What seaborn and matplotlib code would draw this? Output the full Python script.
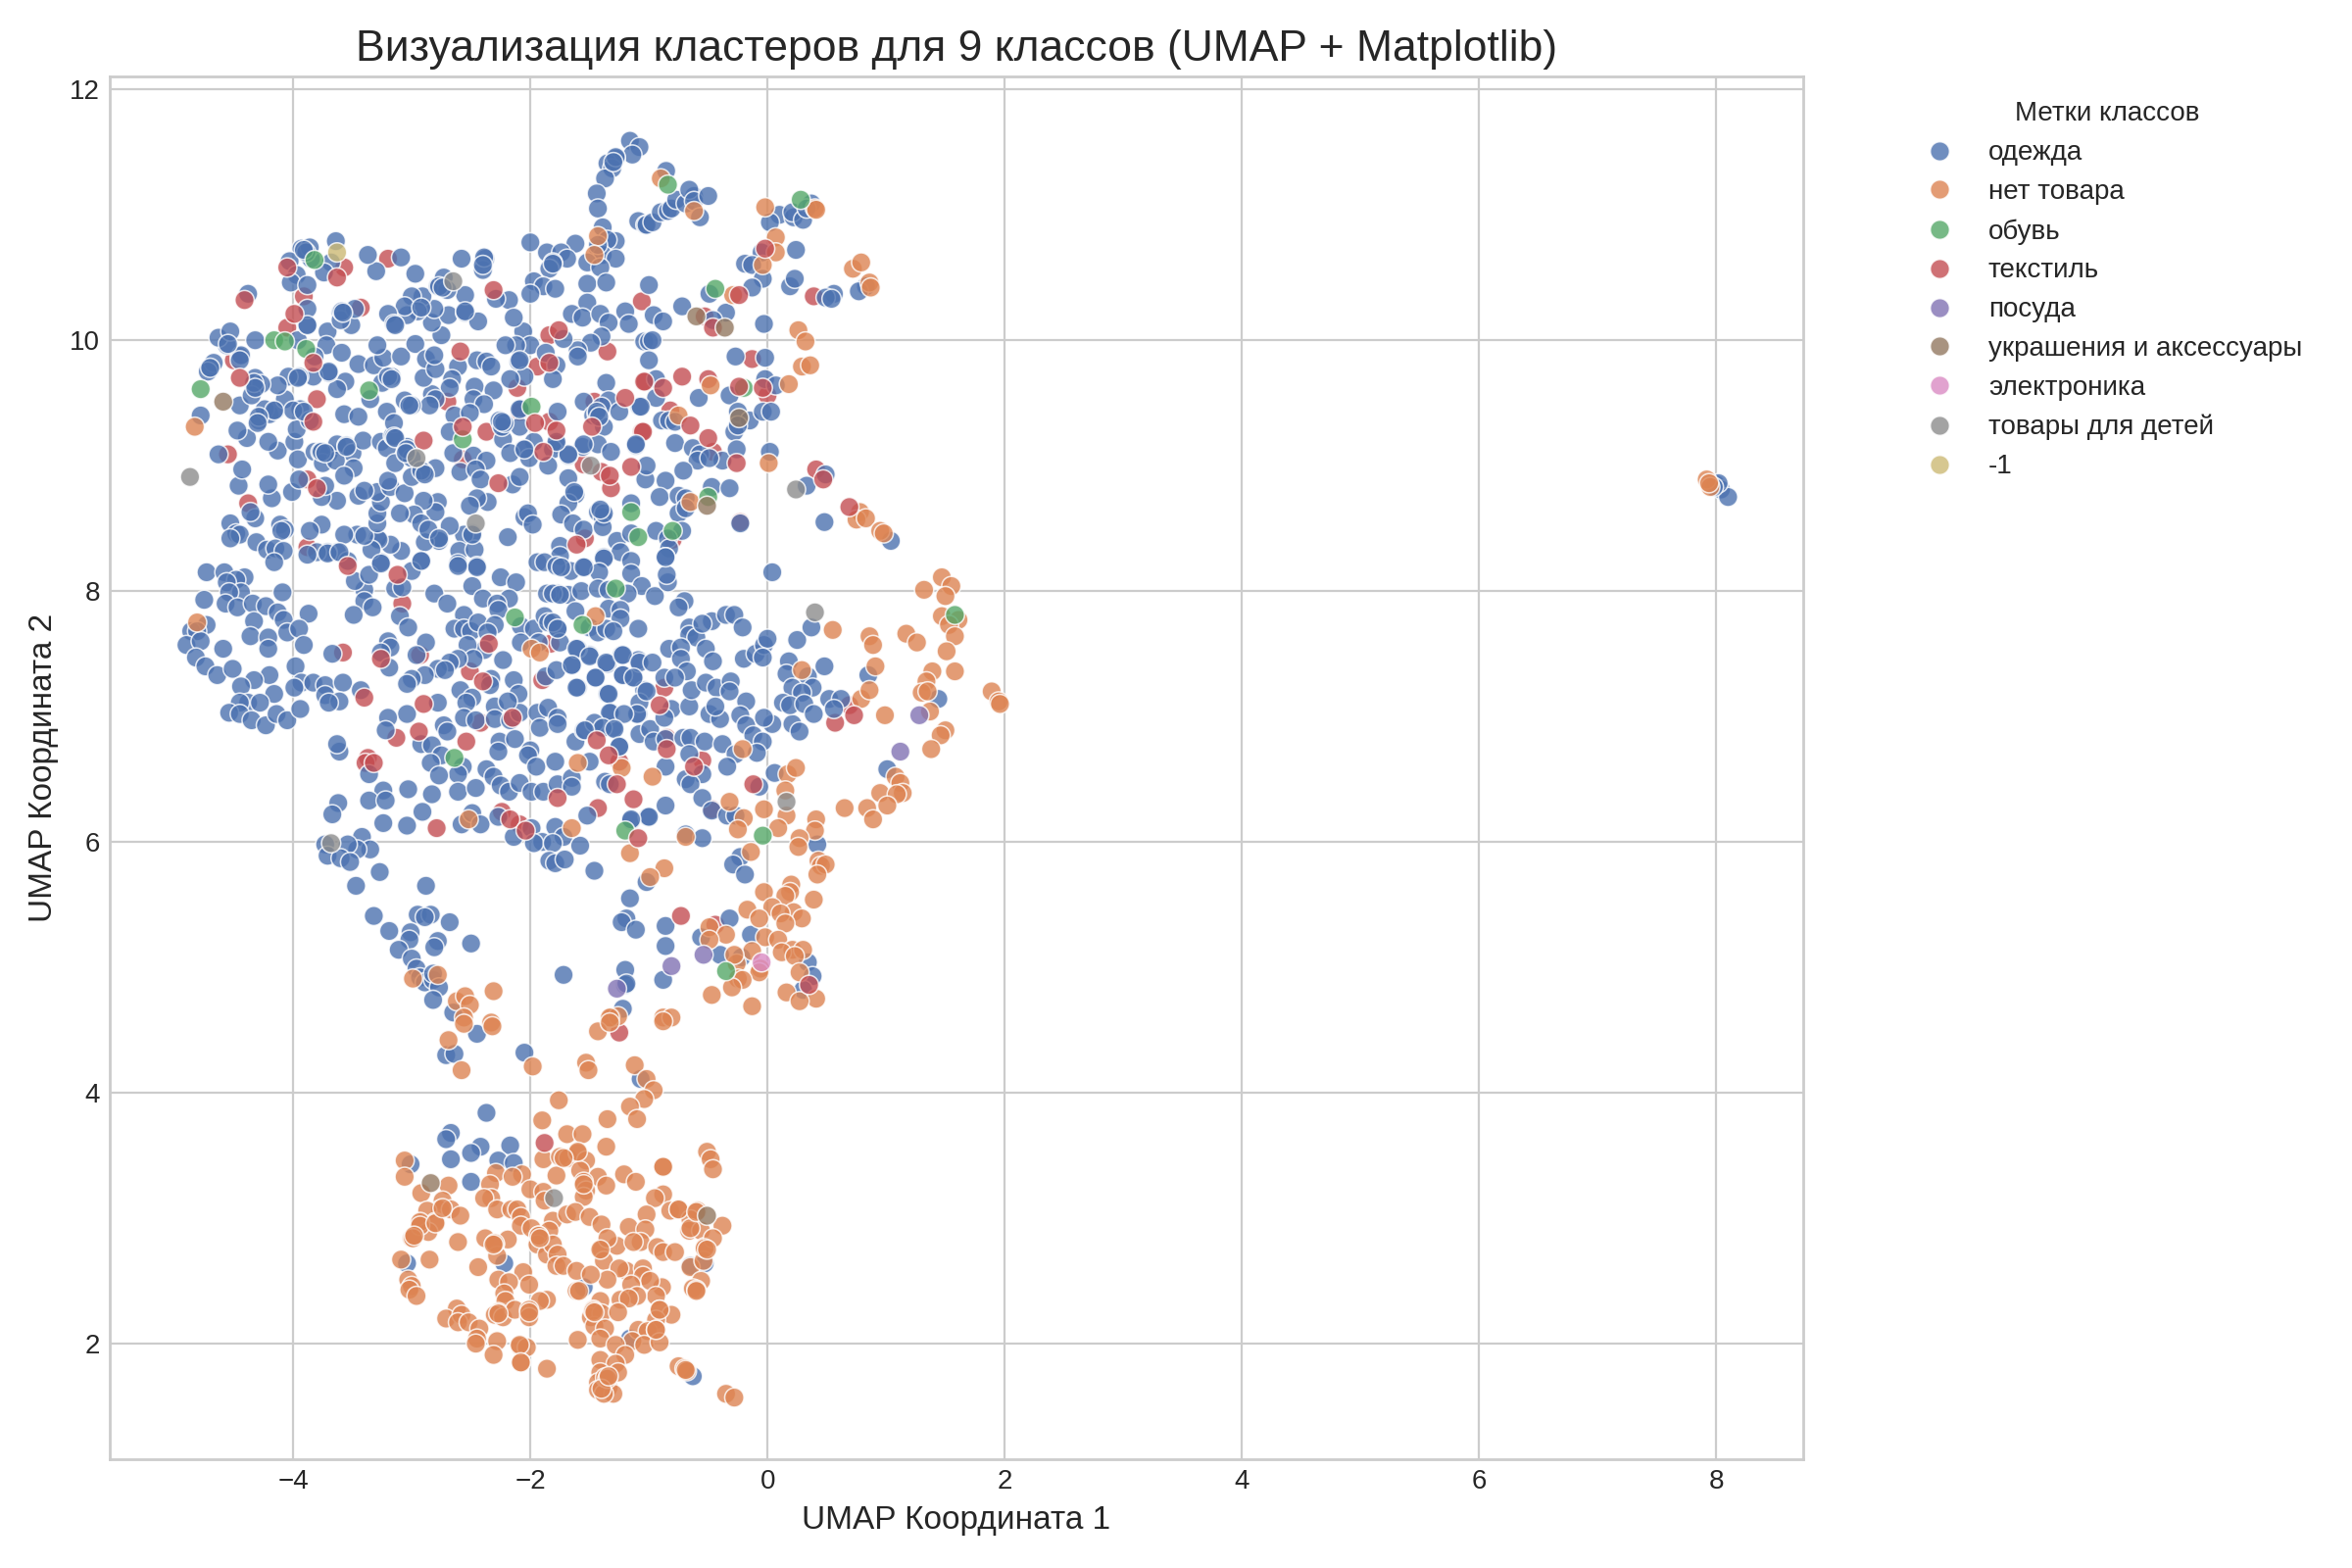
import matplotlib
matplotlib.use('Agg')
import matplotlib.pyplot as plt
import pandas as pd
import seaborn as sns

class_names = ['одежда', 'нет товара', 'обувь', 'текстиль', 'посуда',
               'украшения и аксессуары', 'электроника', 'товары для детей', '-1']

# values
odezhda = [
    (-1.16,11.59),(-1.08,11.54),(-1.14,11.48),(-1.28,11.45),(-1.35,11.41),(-1.31,11.37),(-1.37,11.29),(-1.44,11.17),(-1.43,11.05),(-1.39,10.90),
    (-1.28,10.79),(-1.35,10.80),(-1.09,10.95),(-1.03,10.92),(-2.0,10.78),(-1.86,10.70),(-1.62,10.77),(-1.74,10.70),(-1.69,10.65),(-1.81,10.62),
    (-1.84,10.57),(-1.43,10.73),(-1.39,10.68),(-1.28,10.65),(-1.52,10.62),(-1.41,10.58),(-1.52,10.45),(-1.36,10.46),(-1.97,10.47),(-1.89,10.43),
    (-1.79,10.41),(-2.0,10.37),(-1.52,10.30),(-1.65,10.21),(-1.56,10.18),(-1.41,10.21),(-1.34,10.14),(-1.20,10.23),(-1.17,10.13),(-1.40,10.03),
    (-1.49,9.98),(-1.60,9.92),(-1.60,9.87),(-1.36,9.66),(-1.04,9.99),(-2.06,10.07),(-2.0,9.96),(-2.12,9.96),(-2.21,9.96),(-1.87,9.90),
    (-1.72,10.01),(-2.10,9.83),(-1.78,9.80),(-2.05,9.71),(-2.17,9.69),(-1.81,9.69),(-2.18,10.32),(-2.14,10.18),(-2.29,10.33),(-2.08,9.45),
    (-1.77,9.43),(-1.55,9.51),(-1.34,9.52),(-1.40,9.47),(-1.47,9.40),(-1.44,9.41),(-1.25,9.43),(-1.08,9.47),(-1.38,9.31),(-1.11,9.16),
    (-2.24,9.32),(-2.09,9.31),(-2.26,9.36),(-2.23,9.21),(-1.97,9.19),(-2.06,9.13),(-2.17,9.10),(-2.01,9.06),(-1.78,9.17),(-1.81,9.13),
    (-1.56,9.15),(-1.68,9.08),(-1.43,9.17),(-1.32,9.11),(-1.85,9.0),(-1.68,8.90),(-1.63,8.78),(-1.62,8.77),(-1.68,8.70),(-1.74,8.61),
    (-1.43,8.63),(-1.39,8.59),(-1.15,8.70),(-1.64,8.54),(-1.55,8.49),(-1.39,8.51),(-1.75,8.36),(-1.27,8.40),(-1.15,8.46),(-1.38,8.27),
    (-1.24,8.31),(-1.15,8.24),(-2.19,8.43),(-2.45,9.84),(-2.37,9.83),(-2.33,9.79),(-2.61,9.79),(-2.66,9.69),(-2.68,9.62),(-2.47,9.63),
    (-2.31,9.60),(-2.83,9.57),(-2.80,9.53),(-2.85,9.48),(-2.48,9.53),(-2.39,9.49),(-3.06,9.52),(-3.0,9.48),(-2.64,9.40),(-2.51,9.42),
    (-2.68,9.27),(-2.65,9.10),(-2.48,9.08),(-2.37,9.04),(-2.59,8.95),(-2.46,8.97),(-2.42,8.89),(-2.15,8.85),(-2.09,8.91),(-2.36,8.71),
    (-2.45,8.74),(-2.51,8.68),(-2.05,8.59),(-2.02,8.62),(-1.98,8.53),(-2.49,8.46),(-2.56,8.45),(-2.68,8.52),(-2.78,8.41),(-2.77,8.40),
    (-2.60,8.32),(-2.47,8.33),(-2.89,8.39),(-2.61,8.22),(-2.45,8.20),(-2.92,8.24),(-3.09,8.32),(-3.18,8.37),(-3.29,8.42),(-3.28,8.41),
    (-3.26,8.23),(-3.34,8.33),(-3.46,8.45),(-3.57,8.45),(-3.40,8.44),(-3.29,8.54),(-3.76,8.53),(-3.86,8.48),(-3.63,8.31),(-3.71,8.31),
    (-3.80,8.31),(-3.88,8.29),(-3.54,8.24),(-2.78,8.71),(-2.80,8.63),(-2.90,8.72),(-2.98,8.61),(-2.92,8.54),(-2.86,8.49),(-3.10,8.62),
    (-3.29,8.62),(-3.26,8.71),(-3.29,8.79),(-3.18,8.83),(-3.06,8.78),(-3.20,8.88),(-3.45,8.76),(-3.40,8.80),(-3.63,8.72),(-3.76,8.75),
    (-3.73,8.84),(-4.01,8.79),(-3.95,8.89),(-4.18,8.74),(-4.21,8.85),(-4.46,8.84),(-4.43,8.97),(-4.63,9.09),(-4.13,9.12),(-4.21,9.19),
    (-4.39,9.22),(-4.47,9.28),(-3.99,9.19),(-3.96,9.05),(-3.97,9.29),(-3.82,9.11),(-3.77,9.11),(-3.70,9.10),(-3.63,9.17),(-3.55,9.16),
    (-3.50,9.10),(-3.75,9.02),(-3.64,9.04),(-3.49,8.98),(-3.57,8.92),(-3.41,9.2),(-3.26,9.19),(-3.21,9.14),(-3.16,9.24),(-3.14,9.02),
    (-3.04,9.15),(-3.04,9.10),(-3.0,9.06),(-2.80,8.98),(-2.90,8.95),(-3.0,8.91),(-4.78,9.40),(-4.45,9.48),(-4.29,9.36),(-4.20,9.41),
    (-4.24,9.45),(-4.15,9.44),(-4.07,9.53),(-3.94,9.45),(-4.0,9.44),(-3.86,9.36),(-3.57,9.41),(-3.45,9.39),(-3.21,9.43),(-3.15,9.34),
    (-3.35,9.53),(-3.25,9.66),(-3.17,9.71),(-2.90,9.70),(-3.56,9.67),(-3.63,9.61),(-3.70,9.74),(-3.83,9.71),(-3.95,9.71),(-4.04,9.71),
    (-4.13,9.64),(-4.32,9.70),(-4.33,9.61),(-4.27,9.65),(-4.35,9.56),(-4.45,9.87),(-4.56,9.96),(-4.63,10.02),(-4.53,10.07),(-4.32,10.0),
    (-4.70,9.77),(-4.67,9.82),(-3.96,10.0),(-3.88,10.12),(-3.71,10.07),(-3.72,9.96),(-3.82,9.87),(-3.59,9.90),(-3.45,9.81),(-3.32,9.80),
    (-3.24,9.86),(-3.29,9.96),(-3.09,9.87),(-2.97,9.97),(-2.88,9.85),(-2.80,9.77),(-2.81,9.88),(-2.75,10.04),(-2.83,10.14),(-2.69,10.20),
    (-2.55,10.22),(-2.44,10.15),(-2.55,10.36),(-2.81,10.25),(-2.91,10.35),(-3.0,10.35),(-2.95,10.23),(-3.04,10.20),(-3.06,10.27),(-3.20,10.21),
    (-3.15,10.13),(-2.78,10.43),(-2.73,10.50),(-2.70,10.40),(-2.58,10.65),(-2.38,10.65),(-2.40,10.56),(-2.97,10.53),(-3.30,10.55),(-3.37,10.68),
    (-3.09,10.66),(-3.64,10.79),(-3.68,10.62),(-3.74,10.54),(-3.85,10.65),(-3.93,10.73),(-3.86,10.74),(-3.89,10.70),(-4.03,10.63),(-3.97,10.52),
    (-4.02,10.46),(-3.88,10.44),(-3.88,10.25),(-4.38,10.37),(-3.60,10.22),(-3.51,10.12),(-3.60,10.16),(-3.48,10.25),(-3.59,10.23),(-3.88,10.12),
    (-1.0,10.44),(-0.96,10.20),(-0.88,10.15),(-0.72,10.27),(-1.0,9.99),(-0.97,10.0),(-1.0,9.84),(-0.855,11.35),(-1.02,10.92),(-0.97,10.94),
    (-0.90,11.02),(-0.84,11.03),(-0.81,11.05),(-0.77,11.12),(-0.69,11.09),(-0.62,11.15),(-0.66,11.20),(-0.62,11.11),(-0.50,11.15),(-0.57,10.98),
    (0.10,11.0),(0.02,10.94),(0.22,10.98),(0.21,11.02),(0.30,10.96),(0.37,11.09),(0.33,11.05),(-0.05,10.70),(0.24,10.72),(-0.19,10.61),
    (-0.13,10.60),(-0.04,10.49),(-0.13,10.42),(0.83,10.43),(0.77,10.39),(0.19,10.43),(0.23,10.49),(0.56,10.37),(0.49,10.34),(0.54,10.33),
    (-0.49,10.37),(-0.35,10.22),(-0.46,10.16),(-0.03,10.13),(-0.27,9.87),(-0.02,9.86),(-0.02,9.69),(0.07,9.64),(-0.32,9.56),(-0.58,9.54),
    (-0.94,9.69),(-0.94,9.54),(-1.07,9.47),(-0.89,9.36),(-0.83,9.36),(-0.78,9.35),(-0.25,9.43),(-0.15,9.36),(-0.04,9.43),(0.03,9.43),
    (-0.28,9.27),(-0.25,9.32),(-1.11,9.17),(-0.78,9.18),(-0.63,9.14),(-0.57,9.09),(-0.59,9.04),(-0.38,9.04),(-0.26,9.13),(0.02,9.11),
    (-0.49,9.06),(-0.71,8.96),(-0.86,8.88),(-1.03,8.89),(-1.02,9.0),(-0.91,8.75),(-0.75,8.76),(-0.69,8.74),(-0.47,8.83),(-0.32,8.82),
    (-0.75,8.62),(-0.69,8.66),(-0.23,8.54),(0.33,8.84),(0.49,8.93),(0.48,8.55),(1.04,8.40),(-0.94,8.48),(-0.72,8.48),(-0.84,8.42),
    (-0.83,8.34),(-0.86,8.27),(0.04,8.15),
    (-4.73,8.15),(-4.58,8.15),(-4.41,8.11),(-4.48,8.09),(-4.56,8.07),(-4.44,7.99),(-4.54,7.99),(-4.75,7.93),(-4.57,7.90),(-4.47,7.87),
    (-4.34,7.90),(-4.23,7.88),(-4.09,7.99),(-4.13,7.83),(-4.08,7.77),(-3.87,7.82),(-4.33,7.76),(-4.36,7.64),(-4.21,7.63),(-4.21,7.54),
    (-4.05,7.67),(-3.95,7.70),(-3.91,7.57),(-4.73,7.73),(-4.86,7.68),(-4.81,7.68),(-4.90,7.57),(-4.78,7.60),(-4.82,7.47),(-4.59,7.54),
    (-4.74,7.40),(-4.64,7.33),(-4.51,7.38),(-4.20,7.33),(-4.33,7.29),(-4.44,7.24),(-3.98,7.40),(-3.93,7.27),(-3.99,7.23),(-3.83,7.27),
    (-3.73,7.25),(-3.73,7.17),(-3.58,7.27),(-3.43,7.21),(-3.61,7.12),(-3.70,7.11),(-4.16,7.18),(-4.38,7.11),(-4.45,7.11),(-4.28,7.11),
    (-4.54,7.03),(-4.45,7.02),(-4.35,6.97),(-4.23,6.93),(-4.14,7.02),(-4.05,6.97),(-3.94,7.06),(-3.67,7.50),(-3.20,7.60),(-3.18,7.55),
    (-3.26,7.51),(-3.19,7.39),(-2.88,7.59),(-2.96,7.49),(-3.40,8.01),(-3.48,8.08),(-3.36,8.13),(-3.26,8.22),(-3.14,8.02),(-3.08,8.03),
    (-3.40,7.92),(-3.33,7.87),(-3.49,7.81),(-3.10,7.80),(-3.03,7.71),(-3.0,8.16),(-2.92,8.24),(-2.81,7.98),(-2.70,7.90),(-2.49,8.04),
    (-2.45,8.19),(-2.25,8.11),(-2.12,8.07),(-2.40,7.94),(-2.18,7.94),(-2.28,7.90),(-2.27,7.85),(-2.56,7.81),(-2.64,7.70),(-2.56,7.70),
    (-2.50,7.68),(-2.44,7.75),(-2.30,7.73),(-2.36,7.67),(-2.08,7.72),(-1.97,7.70),(-1.88,7.80),(-1.85,7.75),(-1.77,7.70),(-2.39,7.53),
    (-2.53,7.57),(-2.48,7.46),(-2.61,7.46),(-2.68,7.43),(-2.78,7.38),(-2.72,7.37),(-2.89,7.33),(-3.0,7.30),(-3.04,7.26),(-2.33,7.30),
    (-2.23,7.45),(-2.08,7.59),(-1.93,7.59),(-1.75,7.59),(-2.14,7.29),(-2.10,7.18),(-2.59,7.21),(-2.49,7.15),(-2.54,7.11),(-2.78,7.11),
    (-3.04,7.02),(-3.20,6.99),(-3.22,6.89),(-2.92,6.78),(-2.83,6.77),(-2.56,6.99),(-2.46,6.97),(-2.30,7.08),(-2.30,6.98),(-2.17,6.97),
    (-2.09,7.03),(-2.73,6.93),(-2.70,6.88),(-2.26,6.80),(-2.13,6.82),(-2.27,6.72),(-1.94,7.03),(-1.85,7.07),(-1.77,6.99),(-1.92,6.91),
    (-1.77,6.94),(-2.0,6.73),(-2.02,6.69),(-1.95,6.60),(-1.79,6.64),(-1.62,6.80),(-1.55,6.89),(-1.38,6.91),(-1.30,6.91),(-1.32,7.03),
    (-1.35,7.18),(-1.60,7.23),(-1.45,7.31),(-1.50,7.49),(-1.60,7.54),(-1.65,7.41),(-1.35,7.42),(-1.23,7.49),(-1.13,7.31),(-1.22,7.33),
    (-1.09,7.45),(-1.09,7.02),(-1.04,7.21),(-1.87,7.32),(-1.78,7.37),(-2.75,6.69),(-2.84,6.63),(-2.57,6.60),(-2.61,6.54),(-2.77,6.53),
    (-2.61,6.40),(-2.46,6.43),(-2.37,6.58),(-2.31,6.52),(-2.25,6.45),(-2.18,6.40),(-2.09,6.47),(-1.99,6.40),(-1.89,6.40),(-1.77,6.46),
    (-1.65,6.51),(-1.65,6.44),(-1.52,6.21),(-1.37,6.48),(-1.33,6.46),(-1.15,6.17),(-1.25,6.76),(-1.50,6.64),(-1.01,6.20),(-3.36,6.54),
    (-3.61,6.72),(-3.63,6.78),(-3.24,6.41),(-3.36,6.33),(-3.22,6.33),(-3.03,6.42),(-2.83,6.38),(-3.62,6.31),(-3.67,6.22),(-3.24,6.15),
    (-3.04,6.13),(-2.91,6.24),(-2.58,6.14),(-2.49,6.23),(-2.42,6.14),(-2.27,6.20),(-2.14,6.04),(-1.99,6.11),(-1.90,6.0),(-1.97,5.99),
    (-1.79,6.12),(-1.72,6.04),(-1.81,5.99),(-1.58,5.97),(-1.84,5.85),(-1.79,5.83),(-1.71,5.86),(-1.46,5.77),(-3.42,6.04),(-3.35,5.94),
    (-3.46,5.94),(-3.54,5.98),(-3.73,5.98),(-3.71,5.89),(-3.60,5.87),(-3.52,5.84),(-3.27,5.76),(-3.47,5.65),(-2.88,5.65),(-3.32,5.41),
    (-3.19,5.29),(-2.95,5.42),(-2.84,5.42),(-2.89,5.40),(-2.68,5.36),(-3.01,5.28),(-3.02,5.22),(-3.11,5.14),(-2.78,5.21),(-2.81,5.16),
    (-2.50,5.19),(-3.0,5.07),(-2.96,4.99),(-2.93,4.92),(-2.89,4.88),(-2.82,4.90),(-2.82,4.95),(-2.77,4.84),(-2.82,4.74),(-2.65,4.64),
    (-1.72,4.94),(-1.16,5.55),(-1.19,5.39),(-1.23,5.36),(-1.11,5.30),(-1.20,4.98),(-1.20,4.86),(-1.19,4.87),(-1.22,4.67),
    (-1.66,8.16),(-1.75,8.28),(-1.54,8.19),(-1.38,8.26),(-1.42,8.15),(-1.15,8.14),(-1.06,8.04),(-0.95,7.96),(-0.84,8.07),(-0.85,8.13),
    (-0.86,8.27),(-1.77,7.98),(-1.68,7.97),(-1.57,8.0),(-1.43,8.02),(-1.34,8.01),(-1.18,7.98),(-1.62,7.84),(-1.34,7.86),(-1.24,7.85),
    (-1.24,7.78),(-1.09,7.70),(-1.50,7.71),(-1.43,7.67),(-1.36,7.70),(-1.30,7.68),(-1.81,7.75),(-1.77,7.70),(-1.61,7.54),(-1.50,7.48),
    (-1.65,7.41),(-1.36,7.43),(-1.22,7.49),(-1.08,7.43),(-0.97,7.43),(-1.22,7.33),(-1.13,7.31),(-1.45,7.31),(-1.61,7.23),(-1.34,7.18),
    (-1.08,7.11),(-1.02,7.20),(-1.33,7.03),(-1.10,7.02),(-1.21,7.02),(-1.46,6.95),(-1.39,6.91),(-1.29,6.90),(-1.54,6.89),(-1.25,6.76),
    (-1.08,6.86),(-0.99,6.90),(-0.96,6.80),
    (-0.70,7.92),(-0.75,7.87),(-0.66,7.71),(-0.66,7.65),(-0.60,7.63),(-0.47,7.76),(-0.55,7.74),(-0.35,7.81),(-0.28,7.81),(-0.21,7.71),
    (-0.83,7.54),(-0.73,7.55),(-0.73,7.46),(-0.52,7.54),(-0.46,7.44),(-0.68,7.36),(-0.87,7.31),(-0.78,7.31),(-0.81,7.06),(-0.87,6.99),
    (-0.66,7.08),(-0.64,7.21),(-0.52,7.27),(-0.43,7.23),(-0.31,7.28),(-0.32,7.20),(-0.49,7.02),(-0.40,6.98),(-0.44,7.08),(-0.18,7.12),
    (-0.23,7.01),(-0.18,6.93),(-0.12,6.85),(-0.04,6.80),(0.04,6.94),(-0.03,6.99),(0.21,6.94),(0.27,6.88),(-0.20,7.46),(-0.10,7.50),
    (-0.03,7.57),(0.0,7.62),(-0.04,7.47),(0.25,7.61),(0.37,7.71),(0.18,7.44),(0.16,7.34),(0.34,7.32),(0.48,7.40),(0.21,7.23),
    (0.38,7.23),(0.29,7.19),(0.13,7.11),(0.19,7.09),(0.31,7.10),(0.39,7.02),(0.52,7.14),(0.62,7.14),(0.56,7.06),(0.85,7.33),
    (1.44,7.14),(1.01,6.58),(-0.07,6.44),(0.06,6.55),(-0.23,5.88),(-0.29,5.82),(-0.19,5.74),(0.42,5.98),(-0.32,5.39),(-0.86,5.33),
    (-0.86,5.17),(-0.88,4.90),(-0.14,5.26),(-0.56,5.24),(-0.40,5.10),(-0.22,5.08),(0.34,5.04),(0.38,4.93),(0.30,4.82),(-0.86,6.60),
    (-0.86,6.82),(-0.71,6.83),(-0.65,6.83),(-0.53,6.80),(-0.38,6.78),(-0.66,6.70),(-0.55,6.54),(-0.69,6.50),(-0.65,6.46),(-0.55,6.35),
    (-0.47,6.25),(-0.86,6.29),(-0.27,6.70),(-0.09,6.71),(-0.34,6.60),(-0.34,6.21),(-0.27,6.21),(-0.69,6.06),(-0.55,6.03),(-1.0,6.20),
    (-1.15,6.18),(-1.02,5.68),
    (-2.45,4.47),(-2.71,4.30),(-2.64,4.31),(-2.05,4.32),(-1.07,4.11),(-2.37,3.84),(-2.67,3.68),(-2.71,3.63),(-2.42,3.57),(-2.50,3.52),
    (-2.17,3.58),(-2.67,3.47),(-2.27,3.46),(-2.14,3.44),(-3.01,3.43),(-2.50,3.29),(-2.22,2.64),(-3.04,2.64),(-0.65,2.62),(-0.53,2.64),
    (-1.55,2.45),(-1.16,2.04),(-0.63,1.74),
    (8.0,8.85),(8.04,8.81),(8.10,8.75),(8.02,8.86),(7.98,8.83),
    # second pass: left edge and the darker clumps where circles pile up
    (-4.53,8.54),(-4.48,8.46),(-4.45,8.45),(-4.53,8.42),(-4.32,8.58),(-4.36,8.63),(-4.11,8.53),(-4.07,8.49),(-4.10,8.48),(-4.31,8.39),
    (-4.22,8.33),(-4.15,8.34),(-4.08,8.32),(-4.16,8.23),(-1.94,8.23),(-1.88,8.23),(-1.78,8.20),(-1.74,8.19),(-1.55,8.19),(-1.86,7.98),
    (-1.81,7.98),(-1.75,7.97),(-2.61,8.20),(-2.34,7.25),(-2.19,7.12),(-3.76,9.11),(-3.73,9.10),(-3.55,9.15),(-3.15,9.23),(-3.14,9.22),
    (-3.04,9.13),(-3.05,9.10),(-2.92,8.96),(-2.89,8.93),(-2.77,8.42),(-2.49,8.45),(-2.09,9.84),(-2.24,9.31),(-2.22,9.34),(-1.44,9.43),
    (-1.42,9.39),(-1.63,8.79),(-1.38,8.62),(-3.71,8.30),(-3.61,8.31),(-3.91,9.43),(-4.16,9.44),(-4.29,9.39),(-4.30,9.34),(-4.44,9.88),
    (-4.45,9.84),(-4.33,9.66),(-4.32,9.62),(-4.55,9.97),(-4.72,9.75),(-4.70,9.78),(-3.91,10.72),(-3.58,10.22),(-2.39,10.66),(-2.40,10.60),
    (-2.77,10.43),(-2.74,10.42),(-2.55,10.23),(-2.92,10.26),(-3.14,10.12),(-1.28,11.46),(-1.30,11.42),(-1.81,10.61),(-1.43,10.76),(-3.20,9.71),
    (-3.17,9.69),(-3.96,9.70),(-3.70,9.75),(-3.02,9.48),(-2.09,9.45),(-2.24,9.35),(-2.05,9.13),(-1.55,9.17),(-1.68,9.09),(-1.78,9.19),(-1.41,8.65),
]
net_tovara = [
    (-4.83,9.31),(-1.43,10.83),(-1.46,10.68),(-0.90,11.29),(-0.62,11.03),(-0.02,11.06),(0.40,11.05),(0.41,11.04),(0.07,10.82),(0.07,10.70),
    (-0.04,10.60),(0.72,10.57),(0.79,10.62),(0.86,10.46),(0.87,10.42),(-0.29,10.36),(0.26,10.08),(0.32,9.99),(0.29,9.79),(0.36,9.80),
    (0.18,9.65),(-0.48,9.64),(-0.75,9.40),(0.01,9.02),(-0.65,8.71),(0.78,8.63),(0.75,8.57),(0.83,8.58),(0.95,8.48),(0.98,8.46),
    (-4.81,7.75),(-1.99,7.54),(-1.92,7.51),(-1.60,6.63),(-1.23,6.59),(-1.65,6.11),(-1.16,5.91),(-2.52,6.18),(-2.99,4.91),(-2.78,4.94),
    (-2.62,4.73),(-2.55,4.77),(-2.51,4.70),(-2.31,4.81),(-2.56,4.60),(-2.33,4.56),(-1.32,4.60),(-1.26,4.61),(-1.45,7.80),
    (0.55,7.69),(0.29,7.37),(0.79,7.14),(0.86,7.21),(0.91,7.40),(0.86,7.64),(0.89,7.57),(1.17,7.66),(1.26,7.59),(0.99,7.01),
    (1.47,8.11),(1.55,8.04),(1.32,8.01),(1.50,7.96),(1.47,7.80),(1.61,7.77),(1.53,7.73),(1.58,7.64),(1.51,7.52),(1.58,7.36),
    (1.39,7.36),(1.34,7.28),(1.30,7.19),(1.35,7.20),(1.37,7.04),(1.89,7.20),(1.95,7.12),(1.96,7.10),(1.50,6.89),(1.46,6.85),
    (1.38,6.74),(1.08,6.52),(1.12,6.47),(0.95,6.39),(1.14,6.39),(1.09,6.38),(1.01,6.29),(0.84,6.27),(0.65,6.27),(0.89,6.18),
    (0.17,6.54),(0.24,6.59),(0.15,6.41),(-0.03,6.26),(0.16,6.21),(0.09,6.11),(0.41,6.18),(0.40,6.09),(0.27,6.03),(0.26,5.96),
    (-0.14,5.92),(0.43,5.85),(0.45,5.81),(0.49,5.82),(0.42,5.74),(0.20,5.66),(0.19,5.60),(-0.03,5.60),(0.15,5.57),(0.39,5.54),
    (0.04,5.48),(0.22,5.44),(0.11,5.43),(0.29,5.39),(0.15,5.35),(-0.17,5.46),(-0.07,5.39),(-0.49,5.32),(-0.35,5.26),(-0.49,5.22),
    (-0.02,5.24),(0.09,5.22),(0.21,5.14),(0.12,5.12),(0.30,5.14),(0.23,5.09),(-0.13,5.13),(-0.26,5.03),(-0.28,5.10),(-0.06,4.99),
    (-0.07,4.96),(-0.25,4.91),(-0.21,4.90),(-0.30,4.84),(0.27,4.96),(0.16,4.80),(0.41,4.75),(0.27,4.73),(-0.47,4.78),(-0.13,4.69),
    (-0.88,4.60),(-0.81,4.60),(-1.33,4.60),(-0.97,6.52),(-0.21,6.74),(-0.32,6.32),(-0.20,6.19),(-0.25,6.10),(-0.69,6.04),(-0.87,5.79),
    (-0.99,5.72),
    (-2.56,4.55),(-2.32,4.53),(-2.69,4.42),(-2.58,4.18),(-1.98,4.21),(-1.43,4.49),(-1.33,4.56),(-0.88,4.57),(-1.53,4.24),(-1.51,4.18),
    (-1.12,4.22),(-1.02,4.11),(-0.96,4.02),(-1.04,3.95),(-1.16,3.89),(-1.10,3.79),(-1.76,3.94),(-1.90,3.78),(-1.35,3.79),(-1.69,3.67),
    (-1.56,3.67),(-1.36,3.57),(-3.06,3.46),(-3.06,3.33),(-2.69,3.26),(-2.92,3.20),(-1.89,3.47),(-1.75,3.49),(-1.68,3.48),(-1.60,3.52),
    (-1.53,3.46),(-1.78,3.34),(-1.58,3.38),(-1.43,3.33),(-1.36,3.26),(-1.21,3.35),(-1.11,3.29),(-0.51,3.53),(-0.48,3.47),(-0.46,3.39),
    (-0.88,3.41),(-2.29,3.36),(-2.07,3.35),(-2.15,3.33),(-2.34,3.27),(-2.33,3.16),(-2.39,3.16),(-2.0,3.23),(-1.89,3.21),(-1.88,3.14),
    (-1.55,3.29),(-1.53,3.22),(-1.55,3.17),(-0.88,3.19),(-0.95,3.16),(-2.74,3.14),(-2.76,3.07),(-2.67,3.07),(-2.59,3.02),(-2.87,3.06),
    (-2.28,3.07),(-2.16,3.07),(-2.11,3.07),(-2.08,3.01),(-2.08,2.94),(-1.99,2.92),(-1.81,2.98),(-1.69,3.03),(-1.62,3.05),(-1.50,3.01),
    (-1.40,2.95),(-1.84,2.90),(-1.93,2.86),(-1.94,2.79),(-1.02,3.03),(-0.82,3.06),(-0.75,3.07),(-0.59,3.06),(-0.38,2.94),(-0.65,2.99),
    (-1.17,2.93),(-1.03,2.91),(-0.66,2.90),(-0.56,2.90),(-2.80,2.97),(-2.93,2.96),(-2.86,2.89),(-3.0,2.84),(-2.61,2.81),(-2.19,2.83),
    (-2.38,2.84),(-2.30,2.79),(-2.28,2.70),(-2.85,2.67),(-3.09,2.67),(-2.44,2.61),(-1.86,2.71),(-1.81,2.79),(-1.77,2.71),(-1.78,2.62),
    (-1.72,2.62),(-1.40,2.75),(-1.27,2.78),(-1.35,2.84),(-1.38,2.66),(-1.07,2.81),(-1.13,2.81),(-0.93,2.77),(-0.88,2.73),(-0.78,2.73),
    (-0.53,2.77),(-0.46,2.84),(-0.65,2.61),(-0.54,2.66),(-1.19,2.58),(-1.25,2.60),(-1.05,2.60),(-1.35,2.51),(-1.05,2.54),(-1.61,2.58),
    (-1.49,2.55),(-2.06,2.57),(-2.27,2.51),(-2.18,2.49),(-2.01,2.47),(-3.03,2.51),(-3.0,2.46),(-3.02,2.43),(-2.96,2.38),(-0.89,2.45),
    (-0.99,2.50),(-1.15,2.47),(-0.94,2.38),(-1.10,2.38),(-0.56,2.50),(-0.63,2.44),(-0.60,2.43),(-1.61,2.42),(-2.22,2.40),(-1.86,2.35),
    (-1.92,2.34),(-1.41,2.34),(-1.24,2.35),(-1.17,2.36),(-2.21,2.34),(-2.62,2.28),(-2.71,2.20),(-2.58,2.23),(-2.61,2.17),(-2.52,2.17),
    (-2.27,2.25),(-2.30,2.23),(-2.23,2.21),(-2.13,2.27),(-2.01,2.27),(-2.01,2.21),(-1.47,2.27),(-1.49,2.21),(-1.40,2.24),(-1.26,2.25),
    (-0.91,2.27),(-0.81,2.23),(-0.94,2.19),(-1.46,2.14),(-1.37,2.12),(-2.43,2.12),(-2.45,2.04),(-2.46,2.0),(-2.28,2.02),(-2.31,1.91),
    (-2.09,1.98),(-2.03,1.97),(-2.08,1.85),(-1.86,1.80),(-1.60,2.03),(-1.41,2.04),(-1.09,2.11),(-1.01,2.10),(-0.94,2.11),(-1.14,2.02),
    (-1.28,1.99),(-1.04,1.99),(-0.91,2.01),(-1.20,1.91),(-1.41,1.87),(-1.28,1.84),(-1.26,1.77),(-1.41,1.77),(-1.37,1.72),(-1.43,1.69),
    (-1.34,1.65),(-1.43,1.63),(-1.30,1.60),(-1.38,1.60),(-0.75,1.82),(-0.70,1.80),(-0.68,1.78),(-0.35,1.60),(-0.28,1.57),
    (7.92,8.89),(7.95,8.83),(7.94,8.86),
    # second pass: overlapping clumps of the lower cluster
    (-2.93,2.97),(-2.93,2.94),(-2.80,2.96),(-2.99,2.84),(-2.98,2.86),(-2.74,3.08),(-2.30,2.80),(-2.31,2.79),(-1.93,2.86),(-1.92,2.84),
    (-1.41,2.75),(-0.75,3.07),(-0.65,2.92),(-0.53,2.76),(-0.51,2.75),(-1.47,2.26),(-1.46,2.25),(-2.27,2.24),(-2.01,2.25),(-2.09,1.99),
    (-2.08,1.85),(-1.37,1.73),(-1.35,1.72),(-1.40,1.64),(-1.34,1.74),(-0.69,1.79),(-0.94,2.11),(-0.91,2.27),(-0.60,2.42),(-0.60,3.05),
    (-1.55,3.27),(-0.88,3.41),(-1.59,2.42),(-1.60,3.53),(-1.72,3.48),
]
obuv = [
    (-1.99,9.47),(-2.57,9.21),(-1.15,8.63),(-1.09,8.43),(-4.78,9.61),(-3.36,9.60),(-4.16,10.0),(-4.07,9.99),(-3.89,9.93),(-3.82,10.64),
    (-0.84,11.24),(0.28,11.12),(-0.44,10.41),(-0.20,9.62),(-0.50,8.75),(-0.80,8.48),(-2.13,7.79),(-1.28,8.02),(-1.56,7.73),(-2.64,6.67),
    (-1.20,6.09),(1.58,7.81),(-0.04,6.05),(-0.35,4.97),
]
tekstil = [
    (-1.06,10.31),(-2.31,10.40),(-1.84,10.04),(-1.76,10.08),(-1.35,9.91),(-1.04,9.67),(-1.94,9.79),(-1.84,9.82),(-2.11,9.62),(-1.20,9.54),
    (-2.09,9.43),(-1.48,9.31),(-1.46,9.51),(-1.96,9.34),(-1.84,9.35),(-1.78,9.28),(-1.06,9.27),(-1.89,9.11),(-1.55,9.01),(-1.15,8.99),
    (-1.40,8.95),(-1.33,8.92),(-1.32,8.82),(-1.61,8.37),(-1.54,8.42),(-2.59,9.91),(-2.70,9.51),(-2.57,9.31),(-2.37,9.27),(-2.90,9.2),
    (-2.57,9.05),(-2.27,8.86),(-3.88,8.35),(-3.54,8.20),(-3.88,8.89),(-3.80,8.82),(-4.55,9.09),(-3.83,9.35),(-3.80,9.53),(-4.45,9.70),
    (-4.50,9.84),(-3.83,9.82),(-3.20,10.65),(-3.63,10.50),(-3.57,10.58),(-4.05,10.58),(-3.91,10.35),(-3.99,10.21),(-4.05,10.10),(-4.41,10.32),
    (-3.43,10.26),(-0.02,10.73),(0.39,10.35),(-0.24,10.36),(-0.53,10.19),(-0.46,10.10),(-0.13,9.85),(-0.04,9.62),(0.0,9.56),(-0.24,9.63),
    (-0.50,9.69),(-0.72,9.71),(-1.03,9.67),(-0.88,9.62),(-0.82,9.44),(-0.65,9.32),(-1.05,9.27),(-0.50,9.22),(-0.46,9.11),(-0.26,9.02),
    (0.41,8.97),(0.47,8.89),(-0.23,8.55),(0.69,8.67),(-0.80,8.41),(-3.40,7.15),(-3.58,7.51),(-3.26,7.46),(-2.93,7.49),(-3.12,8.13),
    (-3.08,7.90),(-2.35,7.58),(-2.51,7.36),(-2.40,7.28),(-1.83,7.58),(-2.90,7.10),(-3.13,6.83),(-2.94,6.88),(-2.42,6.95),(-2.15,6.99),
    (-2.54,6.80),(-1.44,6.81),(-1.90,7.29),(-1.77,6.35),(-1.43,6.27),(-1.27,6.46),(-1.13,6.34),(-1.34,6.69),(-1.25,6.64),(-1.09,6.03),
    (-3.37,6.67),(-3.32,6.63),(-3.39,6.63),(-2.79,6.11),(-2.24,6.24),(-2.17,6.18),(-2.09,6.14),(-2.04,6.09),
    (-0.87,7.23),(-0.91,7.09),(0.69,7.09),(0.73,7.01),(0.57,6.95),(-0.12,6.46),(-0.85,6.83),(-0.85,6.74),(-0.55,6.65),(-0.62,6.60),
    (-0.47,6.26),(-0.73,5.41),(-0.44,5.34),(0.35,4.86),(-1.25,4.48),(-1.88,3.60),(-4.38,8.70),
]
posuda = [(1.28,7.01),(1.12,6.72),(-0.54,5.10),(-0.81,5.01),(-1.27,4.83)]
ukrasheniya = [(-4.59,9.51),(-0.60,10.19),(-0.36,10.10),(-0.51,8.68),(-0.24,9.38),(-2.84,3.28),(-0.51,3.02)]
elektronika = [(-0.05,5.04)]
detskie = [(-4.87,8.91),(-2.65,10.47),(-2.96,9.06),(-1.49,9.0),(-2.46,8.54),(0.24,8.81),(0.40,7.83),(0.16,6.32),(-3.68,5.99),(-1.80,3.16)]
shum = [(-3.63,10.70)]

groups = [odezhda, net_tovara, obuv, tekstil, posuda, ukrasheniya, elektronika, detskie, shum]

rows = []
# about half of the red points sit under the blue ones in the original
for x, y in tekstil[::2]:
    rows.append({'x': x, 'y': y, 'label': 'текстиль'})
for name, pts in zip(class_names, groups):
    if name == 'текстиль':
        pts = pts[1::2]
    for x, y in pts:
        rows.append({'x': x, 'y': y, 'label': name})
df = pd.DataFrame(rows)

plt.style.use('seaborn-v0_8-whitegrid')
plt.rcParams['font.family'] = ['Liberation Sans', 'DejaVu Sans']

fig, ax = plt.subplots(figsize=(12, 8), dpi=200)
sns.scatterplot(data=df, x='x', y='y', hue='label', hue_order=class_names,
                palette='deep', s=50, alpha=0.8, ax=ax)

ax.set_xlim(-5.55, 8.73)
ax.set_ylim(1.08, 12.1)
ax.set_title('Визуализация кластеров для 9 классов (UMAP + Matplotlib)', fontsize=16)
ax.set_xlabel('UMAP Координата 1', fontsize=12)
ax.set_ylabel('UMAP Координата 2', fontsize=12)
ax.legend(title='Метки классов', bbox_to_anchor=(1.05, 1), loc='upper left', frameon=False)

fig.subplots_adjust(left=0.0465, right=0.7665, top=0.951, bottom=0.0695)
fig.savefig('out.png')
